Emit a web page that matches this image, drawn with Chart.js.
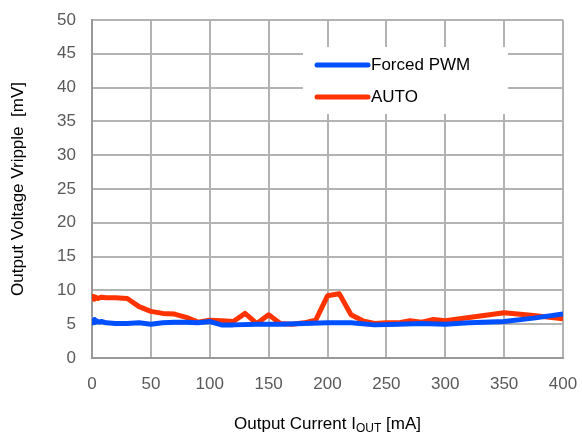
<!DOCTYPE html>
<html>
<head>
<meta charset="utf-8">
<script src="https://cdn.jsdelivr.net/npm/chart.js@4"></script>
<style>
  html, body { margin: 0; padding: 0; background: #fff; }
  #wrap { width: 582px; height: 436px; }
</style>
</head>
<body>
<div id="wrap"><canvas id="rippleChart"></canvas></div>
<script>
// values
const pwmCurrent = [0, 1, 2, 3, 4, 6, 8, 12, 20, 30, 40, 50, 60, 70, 80, 90, 100, 110, 120, 140, 160, 180, 200, 220, 240, 260, 280, 300, 320, 350, 375, 400];
const pwmRipple  = [5.5, 5.2, 5.7, 5.3, 5.5, 5.3, 5.4, 5.2, 5.1, 5.1, 5.2, 5.0, 5.2, 5.3, 5.3, 5.2, 5.4, 4.9, 4.9, 5.0, 5.0, 5.1, 5.2, 5.2, 4.9, 5.0, 5.1, 5.0, 5.2, 5.4, 5.9, 6.5];

const autoCurrent = [0, 1, 2, 3, 5, 8, 12, 20, 30, 40, 50, 60, 70, 80, 90, 100, 110, 120, 130, 140, 150, 160, 170, 180, 190, 200, 210, 220, 230, 240, 250, 260, 270, 280, 290, 300, 325, 350, 375, 400];
const autoRipple  = [8.5, 9.1, 8.7, 9.0, 8.8, 9.0, 8.9, 8.9, 8.8, 7.6, 6.9, 6.6, 6.5, 6.0, 5.3, 5.6, 5.5, 5.4, 6.6, 5.1, 6.4, 5.1, 5.0, 5.2, 5.6, 9.2, 9.5, 6.4, 5.5, 5.1, 5.2, 5.2, 5.5, 5.3, 5.7, 5.5, 6.1, 6.7, 6.3, 5.8];

const seriesNames = ['Forced PWM', 'AUTO'];
const seriesColors = ['#0050ff', '#ff3300'];
const xTicks = [0, 50, 100, 150, 200, 250, 300, 350, 400];
const yTicks = [0, 5, 10, 15, 20, 25, 30, 35, 40, 45, 50];

const FONT = '"Liberation Sans", Arial, sans-serif';

function toPoints(xs, ys) {
  return xs.map((x, i) => ({ x: x, y: ys[i] }));
}

// fixed axis box, no label overflow padding
function fixBox(s, size) {
  if (s.isHorizontal()) s.height = size; else s.width = size;
  s.paddingTop = s.paddingBottom = s.paddingLeft = s.paddingRight = 0;
}

// legend box sitting inside the plot, over the grid
const boxLegend = {
  id: 'boxLegend',
  afterDatasetsDraw(chart) {
    const ctx = chart.ctx;
    ctx.save();
    ctx.fillStyle = '#fff';
    ctx.fillRect(303, 47, 205, 67);
    ctx.lineCap = 'round';
    ctx.lineWidth = 5;
    ctx.font = '17px ' + FONT;
    ctx.textBaseline = 'middle';
    seriesNames.forEach((name, i) => {
      const y = 65 + i * 32;
      ctx.strokeStyle = seriesColors[i];
      ctx.beginPath();
      ctx.moveTo(317, y);
      ctx.lineTo(368, y);
      ctx.stroke();
      ctx.fillStyle = '#000';
      ctx.fillText(name, 371, y);
    });
    ctx.restore();
  }
};

// x title with the subscript
const xTitle = {
  id: 'xTitle',
  afterDraw(chart) {
    const ctx = chart.ctx;
    const a = chart.chartArea;
    const cx = (a.left + a.right) / 2;
    const y = 424;
    ctx.save();
    ctx.fillStyle = '#000';
    ctx.textBaseline = 'middle';
    const big = '17px ' + FONT, small = '12px ' + FONT;
    const p1 = 'Output Current I', p2 = 'OUT', p3 = ' [mA]';
    ctx.font = big; const w1 = ctx.measureText(p1).width, w3 = ctx.measureText(p3).width;
    ctx.font = small; const w2 = ctx.measureText(p2).width;
    let x = cx - (w1 + w2 + w3) / 2;
    ctx.font = big; ctx.fillText(p1, x, y); x += w1;
    ctx.font = small; ctx.fillText(p2, x, y + 5); x += w2;
    ctx.font = big; ctx.fillText(p3, x, y);
    ctx.restore();
  }
};

new Chart(document.getElementById('rippleChart'), {
  type: 'line',
  data: {
    datasets: [
      {
        label: seriesNames[0],
        data: toPoints(pwmCurrent, pwmRipple),
        borderColor: seriesColors[0],
        backgroundColor: seriesColors[0],
        borderWidth: 5,
        borderJoinStyle: 'round',
        pointRadius: 0,
        tension: 0
      },
      {
        label: seriesNames[1],
        data: toPoints(autoCurrent, autoRipple),
        borderColor: seriesColors[1],
        backgroundColor: seriesColors[1],
        borderWidth: 5,
        borderJoinStyle: 'round',
        pointRadius: 0,
        tension: 0
      }
    ]
  },
  options: {
    responsive: true,
    maintainAspectRatio: false,
    animation: false,
    layout: { padding: { left: 0, right: 19, top: 20, bottom: 0 } },
    plugins: {
      legend: { display: false },
      tooltip: { enabled: false }
    },
    scales: {
      x: {
        type: 'linear',
        min: 0,
        max: 400,
        afterBuildTicks: s => { s.ticks = xTicks.map(v => ({ value: v })); },
        afterFit: s => fixBox(s, 78),
        grid: { color: '#b3b3b3', lineWidth: 2, drawTicks: false },
        border: { color: '#999', width: 2 },
        ticks: { color: '#595959', padding: 16, maxRotation: 0, font: { family: FONT, size: 17 } },
        title: { display: false }
      },
      y: {
        min: 0,
        max: 50,
        afterBuildTicks: s => { s.ticks = yTicks.map(v => ({ value: v })); },
        afterFit: s => fixBox(s, 92),
        grid: { color: '#b3b3b3', lineWidth: 2, drawTicks: false },
        border: { color: '#999', width: 2 },
        ticks: { color: '#595959', padding: 16, font: { family: FONT, size: 17 } },
        title: {
          display: true,
          text: 'Output Voltage Vripple  [mV]',
          color: '#000',
          padding: { top: 8, bottom: 0 },
          font: { family: FONT, size: 17 }
        }
      }
    }
  },
  plugins: [boxLegend, xTitle]
});
</script>
</body>
</html>
